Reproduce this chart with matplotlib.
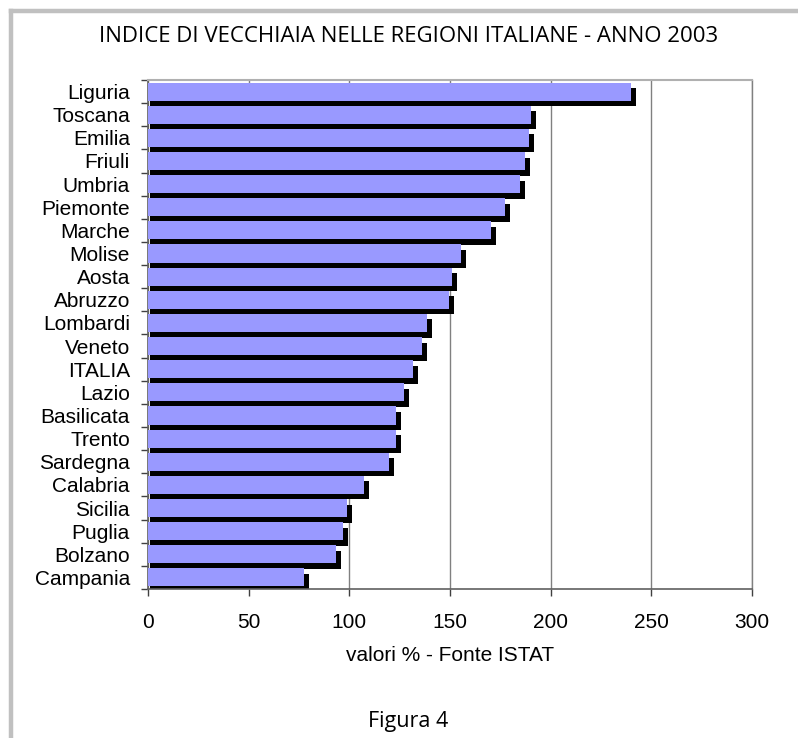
import matplotlib
matplotlib.use("Agg")
import matplotlib.pyplot as plt
from matplotlib.lines import Line2D
import numpy as np

# data, top to bottom as in the chart
REGIONS = [
    "Liguria", "Toscana", "Emilia", "Friuli", "Umbria", "Piemonte", "Marche",
    "Molise", "Aosta", "Abruzzo", "Lombardi", "Veneto", "ITALIA", "Lazio",
    "Basilicata", "Trento", "Sardegna", "Calabria", "Sicilia", "Puglia",
    "Bolzano", "Campania",
]
VALUES = [
    240.0, 190.3, 189.4, 187.3, 184.8, 177.3, 170.4,
    155.5, 151.0, 149.5, 138.6, 136.1, 131.6, 127.2,
    123.2, 123.2, 119.7, 107.3, 98.9, 96.9,
    93.4, 77.5,
]
X_TICKS = [0, 50, 100, 150, 200, 250, 300]

BAR_COLOR = "#9999ff"
SHADOW_COLOR = "#000000"
GRID_COLOR = "#808080"
FRAME_COLOR = "#c0c0c0"

W, H = 798, 738
fig = plt.figure(figsize=(W / 100, H / 100), dpi=100)
fig.patch.set_facecolor("white")

# grey frame of the original sheet (only top and left edges are in view)
fx, fy = 10.5 / W, 1 - 10.5 / H
fig.lines.append(Line2D([fx, fx], [-0.01, fy], transform=fig.transFigure,
                        color=FRAME_COLOR, linewidth=3.2, solid_capstyle="projecting"))
fig.lines.append(Line2D([fx, 1.01], [fy, fy], transform=fig.transFigure,
                        color=FRAME_COLOR, linewidth=3.2, solid_capstyle="projecting"))

ax = fig.add_axes([148 / W, 1 - 589 / H, (752 - 148) / W, (589 - 80) / H])

y = np.arange(len(REGIONS))
vals = np.array(VALUES)
bar_h = 0.78

# black drop shadow first, then the bars on top
ax.barh(y + 0.24, vals + 1.3, left=1.2, height=bar_h, color=SHADOW_COLOR, zorder=2)
ax.barh(y, vals, height=bar_h, color=BAR_COLOR, zorder=3)

ax.set_xlim(0, 300)
ax.set_ylim(len(REGIONS) - 0.5, -0.5)

ax.set_xticks(X_TICKS)
ax.set_xticklabels([str(t) for t in X_TICKS], fontsize=15, family="Liberation Sans")
ax.tick_params(axis="x", direction="out", length=5, width=1, color="#404040", pad=12.5)

ax.set_yticks(y)
ax.set_yticklabels(REGIONS, fontsize=15, family="Liberation Sans")
ax.set_yticks(np.arange(len(REGIONS) + 1) - 0.5, minor=True)
ax.tick_params(axis="y", which="major", length=0, pad=13)
ax.tick_params(axis="y", which="minor", direction="out", length=5, width=1, color="#404040")

ax.xaxis.grid(True, color=GRID_COLOR, linewidth=1)
ax.set_axisbelow(True)

for side in ["left", "bottom"]:
    ax.spines[side].set_color("#606060")
    ax.spines[side].set_linewidth(1.2)
ax.spines["top"].set_color("#b0b0b0")
ax.spines["top"].set_linewidth(1.5)
ax.spines["right"].set_color(GRID_COLOR)
ax.spines["right"].set_linewidth(1)

ax.set_xlabel("valori % - Fonte ISTAT", fontsize=15, family="Liberation Sans", labelpad=10)

fig.text(408.5 / W, 1 - 42 / H, "INDICE DI VECCHIAIA NELLE REGIONI ITALIANE - ANNO 2003",
         ha="center", va="baseline", fontsize=16, family="Open Sans")
fig.text(408 / W, 1 - 727 / H, "Figura 4", ha="center", va="baseline",
         fontsize=15.5, family="Open Sans")

fig.savefig("out.png", dpi=100)
